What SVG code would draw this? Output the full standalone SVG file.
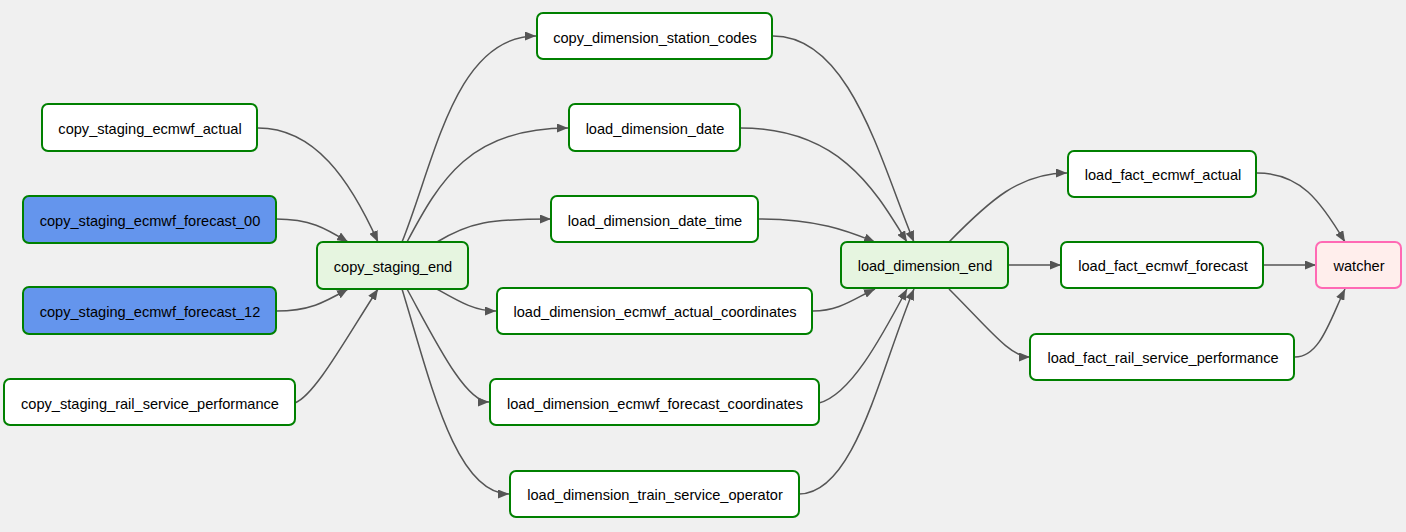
<svg xmlns="http://www.w3.org/2000/svg" width="1406" height="532" viewBox="0 0 1406 532">
<style>
.n rect{fill:#fff;stroke:#008000;stroke-width:2}
.n text{font-family:"Liberation Sans",Arial,sans-serif;font-size:14.6px;fill:#000;text-anchor:middle}
.n.blue rect{fill:#6495ed}
.n.end rect{fill:#e6f5e0}
.n.pink rect{fill:#ffeeec;stroke:#ff69b4}
.e path{fill:none;stroke:#555;stroke-width:1.5;marker-end:url(#arr)}
</style>
<defs>
<marker id="arr" markerUnits="userSpaceOnUse" markerWidth="11" markerHeight="9" refX="11" refY="4.5" orient="auto">
<path d="M0,0 L11,4.5 L0,9 z" fill="#555"/>
</marker>
</defs>
<rect width="1406" height="532" fill="#f0f0f0"/>
<g id="connectors" class="e">
<path d="M258,128 C315,128 350,180 378,242"/>
<path d="M276,219 C310,219 325,228 348,242"/>
<path d="M276,311 C310,311 325,302 348,289"/>
<path d="M295,403 C315,395 345,340 378,289"/>
<path d="M402,242 C435,160 455,36 536,36"/>
<path d="M407,242 C440,180 470,128 568,128"/>
<path d="M437,242 C470,222 490,219 551,219"/>
<path d="M437,289 C460,302 475,311 496,311"/>
<path d="M407,289 C435,340 465,402 489,402"/>
<path d="M402,289 C430,380 455,494 509,494"/>
<path d="M773,36 C850,36 880,160 914,242"/>
<path d="M740,128 C840,128 875,190 907,242"/>
<path d="M758,219 C820,219 850,232 875,242"/>
<path d="M813,311 C840,311 855,298 875,289"/>
<path d="M819,403 C850,395 880,340 907,289"/>
<path d="M799,494 C855,494 880,370 914,289"/>
<path d="M949,242 C990,200 1020,173 1067,173"/>
<path d="M1008,265 L1061,265"/>
<path d="M949,289 C990,330 1010,357 1030,357"/>
<path d="M1257,173 C1300,173 1320,200 1345,242"/>
<path d="M1263,265 L1316,265"/>
<path d="M1295,357 C1320,357 1330,320 1345,289"/>
</g>
<g id="copy_staging_ecmwf_actual" class="n"><rect x="42" y="104" width="215" height="47" rx="6"/><text x="150" y="134">copy_staging_ecmwf_actual</text></g>
<g id="copy_staging_ecmwf_forecast_00" class="n blue"><rect x="23" y="196" width="253" height="47" rx="6"/><text x="150" y="226">copy_staging_ecmwf_forecast_00</text></g>
<g id="copy_staging_ecmwf_forecast_12" class="n blue"><rect x="23" y="287" width="253" height="47" rx="6"/><text x="150" y="317">copy_staging_ecmwf_forecast_12</text></g>
<g id="copy_staging_rail_service_performance" class="n"><rect x="4" y="379" width="291" height="46" rx="6"/><text x="150" y="409">copy_staging_rail_service_performance</text></g>
<g id="copy_staging_end" class="n end"><rect x="317" y="242" width="151" height="47" rx="6"/><text x="393" y="272">copy_staging_end</text></g>
<g id="copy_dimension_station_codes" class="n"><rect x="537" y="13" width="235" height="46" rx="6"/><text x="655" y="43">copy_dimension_station_codes</text></g>
<g id="load_dimension_date" class="n"><rect x="569" y="104" width="171" height="47" rx="6"/><text x="655" y="134">load_dimension_date</text></g>
<g id="load_dimension_date_time" class="n"><rect x="551" y="196" width="207" height="46" rx="6"/><text x="655" y="226">load_dimension_date_time</text></g>
<g id="load_dimension_ecmwf_actual_coordinates" class="n"><rect x="497" y="288" width="315" height="46" rx="6"/><text x="655" y="317">load_dimension_ecmwf_actual_coordinates</text></g>
<g id="load_dimension_ecmwf_forecast_coordinates" class="n"><rect x="490" y="379" width="329" height="46" rx="6"/><text x="655" y="409">load_dimension_ecmwf_forecast_coordinates</text></g>
<g id="load_dimension_train_service_operator" class="n"><rect x="510" y="471" width="289" height="46" rx="6"/><text x="655" y="500">load_dimension_train_service_operator</text></g>
<g id="load_dimension_end" class="n end"><rect x="841" y="242" width="167" height="46" rx="6"/><text x="925" y="271">load_dimension_end</text></g>
<g id="load_fact_ecmwf_actual" class="n"><rect x="1068" y="151" width="188" height="46" rx="6"/><text x="1163" y="180">load_fact_ecmwf_actual</text></g>
<g id="load_fact_ecmwf_forecast" class="n"><rect x="1061" y="242" width="202" height="46" rx="6"/><text x="1163" y="271">load_fact_ecmwf_forecast</text></g>
<g id="load_fact_rail_service_performance" class="n"><rect x="1030" y="334" width="264" height="46" rx="6"/><text x="1163" y="363">load_fact_rail_service_performance</text></g>
<g id="watcher" class="n pink"><rect x="1316" y="242" width="85" height="46" rx="6"/><text x="1359" y="271">watcher</text></g>
</svg>
